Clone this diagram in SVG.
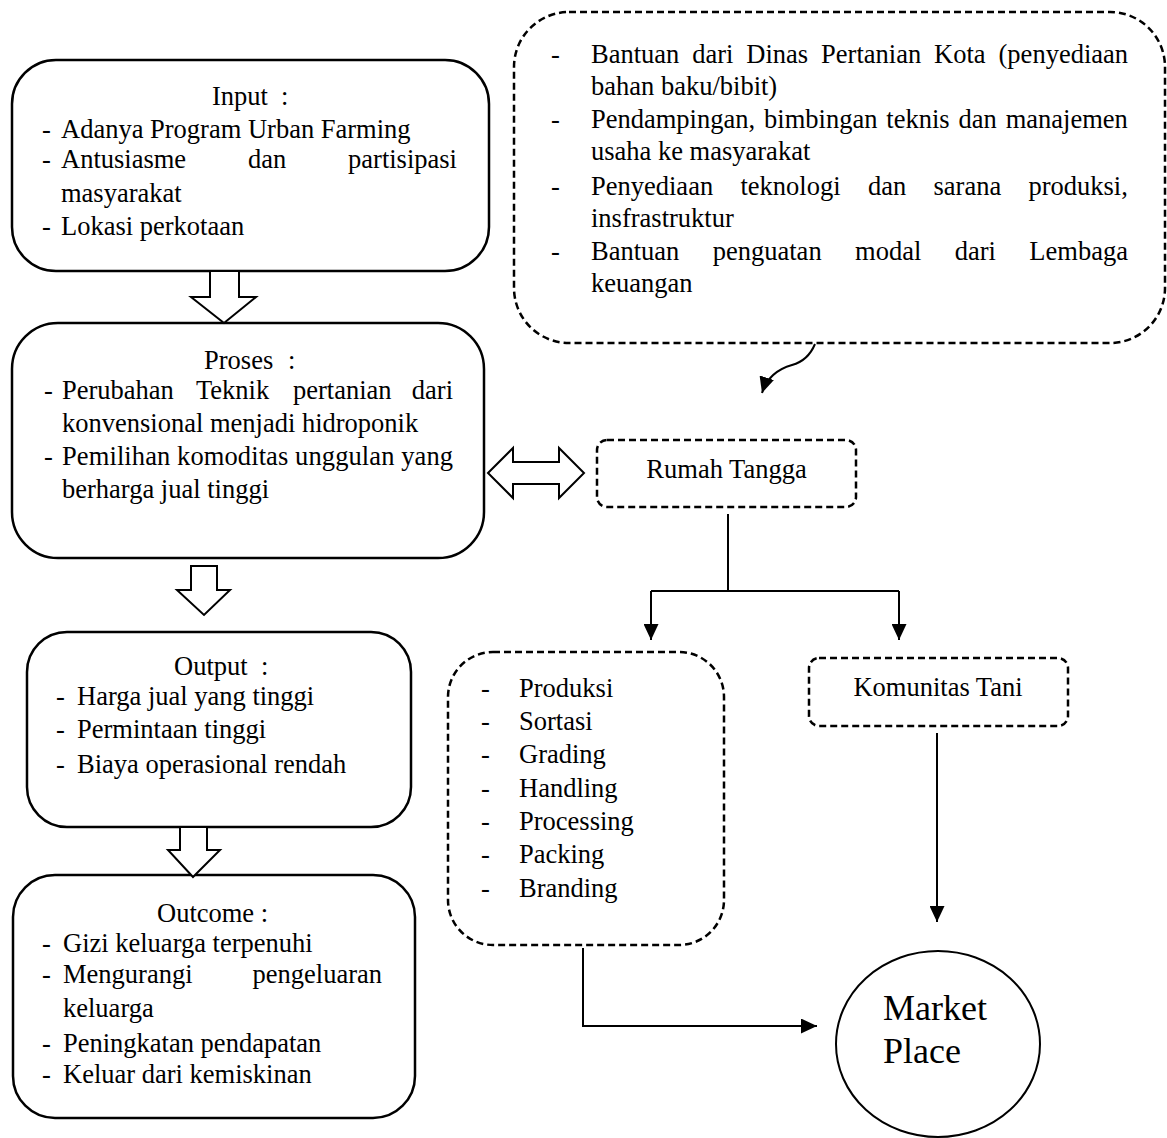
<svg xmlns="http://www.w3.org/2000/svg" width="1167" height="1138" viewBox="0 0 1167 1138">
<style>
text{font-family:"Liberation Serif","Times New Roman",serif;font-size:26.5px;fill:#000}
.box{fill:#fff;stroke:#000;stroke-width:2.5}
.dbox{fill:#fff;stroke:#000;stroke-width:2.5;stroke-dasharray:7 4}
.blk{fill:#fff;stroke:#000;stroke-width:2;stroke-linejoin:miter}
.ln{fill:none;stroke:#000;stroke-width:2}
.mp{font-size:36px}
</style>
<defs>
<marker id="ah" markerUnits="userSpaceOnUse" markerWidth="16" markerHeight="15" refX="16" refY="7.5" orient="auto">
<path d="M0,0 L16,7.5 L0,15 z" fill="#000"/>
</marker>
</defs>

<g id="input">
<rect class="box" x="12" y="60" width="477" height="211" rx="44"/>
<text x="212" y="105">Input</text><text x="281" y="105">:</text>
<text x="42" y="138">-</text><text x="61" y="138">Adanya Program Urban Farming</text>
<text x="42" y="168">-</text><text x="61" y="168">Antusiasme</text><text x="248" y="168">dan</text><text x="457" y="168" text-anchor="end">partisipasi</text>
<text x="61" y="202">masyarakat</text>
<text x="42" y="235">-</text><text x="61" y="235">Lokasi perkotaan</text>
</g>

<g id="proses">
<rect class="box" x="12" y="323" width="472" height="235" rx="46"/>
<text x="204" y="369">Proses</text><text x="288" y="369">:</text>
<text x="44" y="399">-</text><text x="62" y="399">Perubahan</text><text x="196" y="399">Teknik</text><text x="293" y="399">pertanian</text><text x="453" y="399" text-anchor="end">dari</text>
<text x="62" y="432">konvensional menjadi hidroponik</text>
<text x="44" y="465">-</text><text x="62" y="465" textLength="391" lengthAdjust="spacing">Pemilihan komoditas unggulan yang</text>
<text x="62" y="498">berharga jual tinggi</text>
</g>

<g id="output">
<rect class="box" x="27" y="632" width="384" height="195" rx="40"/>
<text x="174" y="675">Output</text><text x="261" y="675">:</text>
<text x="56" y="705">-</text><text x="77" y="705">Harga jual yang tinggi</text>
<text x="56" y="738">-</text><text x="77" y="738">Permintaan tinggi</text>
<text x="56" y="773">-</text><text x="77" y="773">Biaya operasional rendah</text>
</g>

<g id="outcome">
<rect class="box" x="13" y="875" width="402" height="243" rx="42"/>
<text x="157" y="922">Outcome :</text>
<text x="42" y="952">-</text><text x="63" y="952">Gizi keluarga terpenuhi</text>
<text x="42" y="983">-</text><text x="63" y="983">Mengurangi</text><text x="382" y="983" text-anchor="end">pengeluaran</text>
<text x="63" y="1017">keluarga</text>
<text x="42" y="1052">-</text><text x="63" y="1052">Peningkatan pendapatan</text>
<text x="42" y="1083">-</text><text x="63" y="1083">Keluar dari kemiskinan</text>
</g>

<g id="bantuan">
<rect class="dbox" x="514" y="12" width="651" height="331" rx="55"/>
<text x="551" y="63">-</text><text x="591" y="63" word-spacing="6.3">Bantuan dari Dinas Pertanian Kota (penyediaan</text>
<text x="591" y="95">bahan baku/bibit)</text>
<text x="551" y="128">-</text><text x="591" y="128" word-spacing="2.3">Pendampingan, bimbingan teknis dan manajemen</text>
<text x="591" y="160">usaha ke masyarakat</text>
<text x="551" y="195">-</text><text x="591" y="195" word-spacing="20.7">Penyediaan teknologi dan sarana produksi,</text>
<text x="591" y="227">insfrastruktur</text>
<text x="551" y="260">-</text><text x="591" y="260" word-spacing="26.8">Bantuan penguatan modal dari Lembaga</text>
<text x="591" y="292">keuangan</text>
</g>

<g id="rumah-tangga">
<rect class="dbox" x="597" y="440" width="259" height="67" rx="10"/>
<text x="726.5" y="478" text-anchor="middle">Rumah Tangga</text>
</g>

<g id="produksi">
<rect class="dbox" x="448" y="652" width="276" height="293" rx="45"/>
<text x="481" y="697">-</text><text x="519" y="697">Produksi</text>
<text x="481" y="730">-</text><text x="519" y="730">Sortasi</text>
<text x="481" y="763">-</text><text x="519" y="763">Grading</text>
<text x="481" y="797">-</text><text x="519" y="797">Handling</text>
<text x="481" y="830">-</text><text x="519" y="830">Processing</text>
<text x="481" y="863">-</text><text x="519" y="863">Packing</text>
<text x="481" y="897">-</text><text x="519" y="897">Branding</text>
</g>

<g id="komunitas-tani">
<rect class="dbox" x="809" y="658" width="259" height="68" rx="10"/>
<text x="938" y="696" text-anchor="middle">Komunitas Tani</text>
</g>

<g id="market-place">
<ellipse cx="938" cy="1044" rx="102" ry="93" fill="#fff" stroke="#000" stroke-width="2"/>
<text class="mp" x="883" y="1020">Market</text>
<text class="mp" x="883" y="1063">Place</text>
</g>

<g id="connectors">
<path class="blk" d="M210,271 L239,271 L239,297 L256,297 L224,323 L191,297 L210,297 Z"/>
<path class="blk" d="M191,566 L217,566 L217,590 L230,590 L204,615 L177,590 L191,590 Z"/>
<path class="blk" d="M180,827 L207,827 L207,850 L220,850 L193,877 L168,850 L180,850 Z"/>
<path class="blk" d="M488,473 L513,448 L513,462 L559,462 L559,448 L584,473 L559,498 L559,484 L513,484 L513,498 Z"/>
<path class="ln" d="M815,344 C810,356 803,362 792,365 C778,369 767,377 762,393" marker-end="url(#ah)"/>
<path class="ln" d="M728,514 L728,591"/>
<path class="ln" d="M651,591 L899,591"/>
<path class="ln" d="M651,591 L651,640" marker-end="url(#ah)"/>
<path class="ln" d="M899,591 L899,640" marker-end="url(#ah)"/>
<path class="ln" d="M937,733 L937,922" marker-end="url(#ah)"/>
<path class="ln" d="M583,948 L583,1026 L817,1026" marker-end="url(#ah)"/>
</g>
</svg>
